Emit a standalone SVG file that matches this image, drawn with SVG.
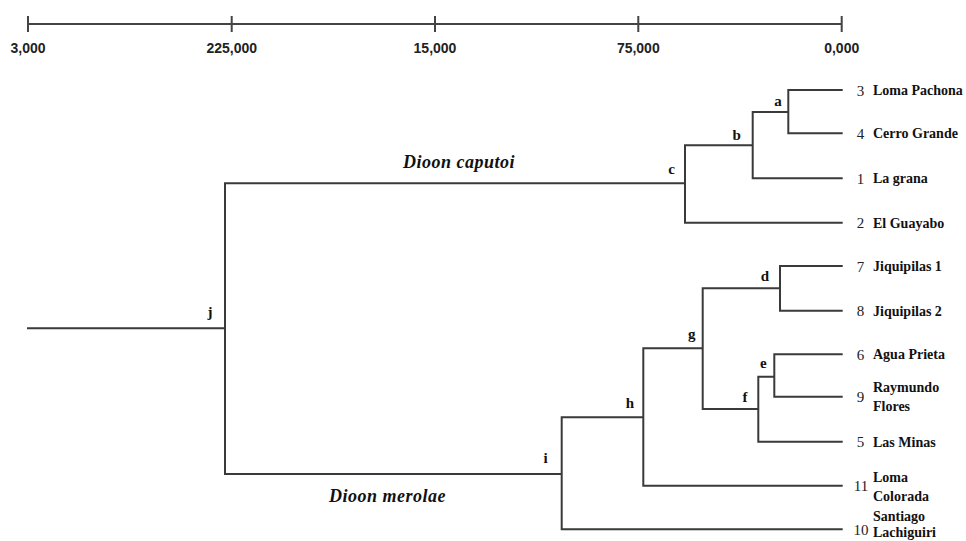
<svg xmlns="http://www.w3.org/2000/svg" width="966" height="541" viewBox="0 0 966 541">
<style>
.ln{fill:none;stroke:#3a3a3a;stroke-width:2;stroke-linecap:square}
.sc{fill:none;stroke:#444;stroke-width:2}
.st{font-family:"Liberation Sans",Arial,sans-serif;font-weight:bold;font-size:14px;fill:#222;text-anchor:middle}
.num{font-family:"Liberation Serif","Times New Roman",serif;font-size:15px;fill:#222;text-anchor:middle}
.nm{font-family:"Liberation Serif","Times New Roman",serif;font-weight:bold;font-size:14px;fill:#111}
.lt{font-family:"Liberation Serif","Times New Roman",serif;font-weight:bold;font-size:15px;fill:#111;text-anchor:middle}
.sp{font-family:"Liberation Serif","Times New Roman",serif;font-weight:bold;font-style:italic;font-size:18px;letter-spacing:0.5px;fill:#111}
</style>
<rect width="966" height="541" fill="#fff"/>
<g id="scale">
<path class="sc" d="M28 24H842M28 16V32M231.7 16V32M435 16V32M638.3 16V32M841.7 16V32"/>
<text class="st" x="28" y="52.5">3,000</text>
<text class="st" x="231.7" y="52.5">225,000</text>
<text class="st" x="435" y="52.5">15,000</text>
<text class="st" x="638.3" y="52.5">75,000</text>
<text class="st" x="841.7" y="52.5">0,000</text>
</g>
<g id="connectors">
<path class="ln" d="M28 328.3H225M225 183.3V474M225 183.3H685M685 145.3V222.7M685 145.3H752.7M685 222.7H841.7M752.7 112V178.3M752.7 112H788.3M752.7 178.3H841.7M788.3 90V133.3M788.3 90H841.7M788.3 133.3H841.7"/>
<path class="ln" d="M225 474H561.7M561.7 417.3V529.3M561.7 417.3H643.3M561.7 529.3H841.7M643.3 348.3V485.7M643.3 348.3H702.7M643.3 485.7H841.7M702.7 288.3V409M702.7 288.3H780M702.7 409H758.3M780 266V310.7M780 266H841.7M780 310.7H841.7M758.3 376.7V441.7M758.3 376.7H774.3M758.3 441.7H841.7M774.3 354.3V396.7M774.3 354.3H841.7M774.3 396.7H841.7"/>
</g>
<g id="species-caputoi"><text class="sp" x="403" y="167.7">Dioon caputoi</text></g>
<g id="species-merolae"><text class="sp" x="329" y="501.7">Dioon merolae</text></g>
<g id="node-a"><text class="lt" x="778" y="105.5">a</text></g>
<g id="node-b"><text class="lt" x="736.7" y="140">b</text></g>
<g id="node-c"><text class="lt" x="671.7" y="173.5">c</text></g>
<g id="node-d"><text class="lt" x="765" y="281">d</text></g>
<g id="node-e"><text class="lt" x="763.3" y="367.5">e</text></g>
<g id="node-f"><text class="lt" x="745" y="401.7">f</text></g>
<g id="node-g"><text class="lt" x="691.7" y="338.7">g</text></g>
<g id="node-h"><text class="lt" x="630" y="408.3">h</text></g>
<g id="node-i"><text class="lt" x="545.7" y="463.3">i</text></g>
<g id="node-j"><text class="lt" x="210" y="316.7">j</text></g>
<g id="leaf-3"><text class="num" x="860.5" y="95.5">3</text><text class="nm" x="873" y="95">Loma Pachona</text></g>
<g id="leaf-4"><text class="num" x="860.5" y="138.8">4</text><text class="nm" x="873" y="138.3">Cerro Grande</text></g>
<g id="leaf-1"><text class="num" x="860.5" y="183.8">1</text><text class="nm" x="873" y="183.3">La grana</text></g>
<g id="leaf-2"><text class="num" x="860.5" y="228.2">2</text><text class="nm" x="873" y="227.7">El Guayabo</text></g>
<g id="leaf-7"><text class="num" x="860.5" y="271.5">7</text><text class="nm" x="873" y="271">Jiquipilas 1</text></g>
<g id="leaf-8"><text class="num" x="860.5" y="316.2">8</text><text class="nm" x="873" y="315.7">Jiquipilas 2</text></g>
<g id="leaf-6"><text class="num" x="860.5" y="359.8">6</text><text class="nm" x="873" y="359.3">Agua Prieta</text></g>
<g id="leaf-9"><text class="num" x="860.5" y="402.2">9</text><text class="nm" x="873" y="392">Raymundo</text><text class="nm" x="873" y="410.5">Flores</text></g>
<g id="leaf-5"><text class="num" x="860.5" y="447.2">5</text><text class="nm" x="873" y="446.7">Las Minas</text></g>
<g id="leaf-11"><text class="num" x="861" y="491.2">11</text><text class="nm" x="873" y="481.5">Loma</text><text class="nm" x="873" y="500.5">Colorada</text></g>
<g id="leaf-10"><text class="num" x="861" y="534.8">10</text><text class="nm" x="873" y="520.5">Santiago</text><text class="nm" x="873" y="536.5">Lachiguiri</text></g>
</svg>
